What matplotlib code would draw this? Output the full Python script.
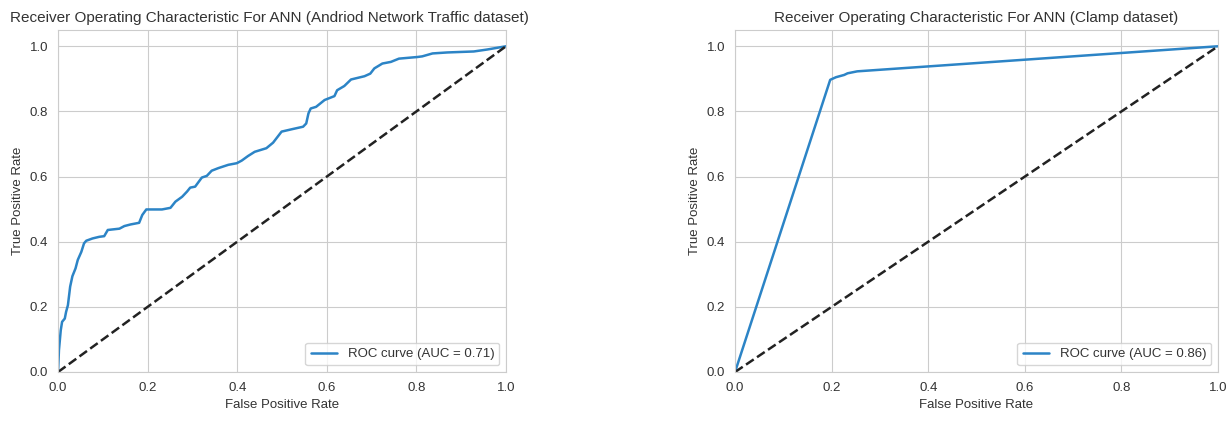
import numpy as np
import matplotlib
matplotlib.use('Agg')
import matplotlib.pyplot as plt
import seaborn as sns

# ROC points
FPR_ANDROID = [0.0, 0.002, 0.006, 0.009, 0.015, 0.018, 0.022, 0.027, 0.032, 0.039,
               0.044, 0.052, 0.058, 0.063, 0.077, 0.092, 0.103, 0.111, 0.137, 0.148,
               0.162, 0.181, 0.188, 0.197, 0.232, 0.251, 0.262, 0.277, 0.288, 0.295,
               0.306, 0.321, 0.332, 0.343, 0.358, 0.380, 0.399, 0.410, 0.424, 0.439,
               0.465, 0.480, 0.499, 0.521, 0.547, 0.554, 0.559, 0.564, 0.576, 0.595,
               0.617, 0.623, 0.639, 0.654, 0.684, 0.697, 0.706, 0.724, 0.743, 0.761,
               0.802, 0.813, 0.836, 0.869, 0.928, 0.958, 1.0]
TPR_ANDROID = [0.0, 0.067, 0.128, 0.154, 0.164, 0.185, 0.205, 0.262, 0.294, 0.318,
               0.344, 0.369, 0.395, 0.403, 0.410, 0.415, 0.417, 0.436, 0.440, 0.448,
               0.453, 0.458, 0.482, 0.499, 0.499, 0.504, 0.523, 0.538, 0.554, 0.566,
               0.569, 0.597, 0.602, 0.618, 0.626, 0.636, 0.641, 0.649, 0.663, 0.676,
               0.687, 0.704, 0.738, 0.745, 0.753, 0.763, 0.794, 0.809, 0.814, 0.835,
               0.847, 0.865, 0.878, 0.898, 0.908, 0.916, 0.932, 0.947, 0.952, 0.962,
               0.967, 0.969, 0.978, 0.981, 0.984, 0.990, 1.0]
AUC_ANDROID = 0.71

FPR_CLAMP = [0.0, 0.197, 0.209, 0.226, 0.233, 0.253, 1.0]
TPR_CLAMP = [0.0, 0.897, 0.905, 0.912, 0.917, 0.923, 1.0]
AUC_CLAMP = 0.86

TITLES = ['Receiver Operating Characteristic For ANN (Andriod Network Traffic dataset)',
          'Receiver Operating Characteristic For ANN (Clamp dataset)']

sns.set_style('whitegrid')
plt.rcParams['font.family'] = ['Liberation Sans', 'DejaVu Sans']
TEXT_COLOR = '#333333'


def roc_panel(ax, fpr, tpr, auc, title, title_x=0.5):
    ax.plot(fpr, tpr, color='#2c84c6', lw=1.8, label=f'ROC curve (AUC = {auc:.2f})')
    ax.plot([0, 1], [0, 1], '--', color='#222222', lw=1.8)
    ax.set_xlim(0.0, 1.0)
    ax.set_ylim(0.0, 1.05)
    ax.set_xlabel('False Positive Rate', fontsize=9.5, color=TEXT_COLOR)
    ax.set_ylabel('True Positive Rate', fontsize=9.5, color=TEXT_COLOR)
    ax.set_title(title, fontsize=11, color=TEXT_COLOR, x=title_x)
    ax.tick_params(labelsize=9.5, labelcolor=TEXT_COLOR)
    leg = ax.legend(loc='lower right', fontsize=9.5)
    for t in leg.get_texts():
        t.set_color(TEXT_COLOR)


fig = plt.figure(figsize=(12.3, 4.21), dpi=100)
ax_left = fig.add_axes([0.0472, 0.1164, 0.3642, 0.8124])
ax_right = fig.add_axes([0.5976, 0.1164, 0.3927, 0.8124])
roc_panel(ax_left, FPR_ANDROID, TPR_ANDROID, AUC_ANDROID, TITLES[0], title_x=0.472)
roc_panel(ax_right, FPR_CLAMP, TPR_CLAMP, AUC_CLAMP, TITLES[1])

plt.savefig('out.png', dpi=100)
